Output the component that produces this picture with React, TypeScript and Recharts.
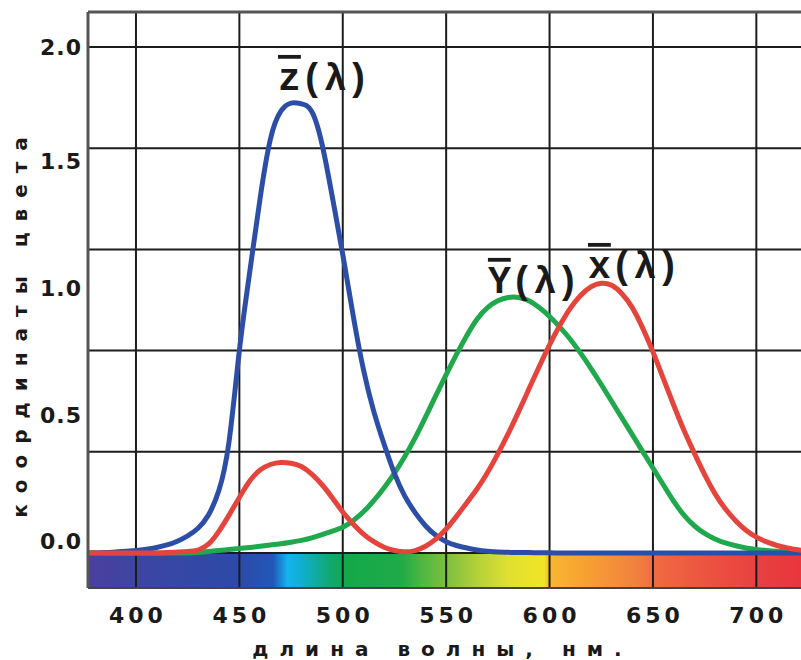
import React from 'react';
import {
  LineChart,
  Line,
  XAxis,
  YAxis,
  ReferenceArea,
  ReferenceLine,
  ReferenceDot,
  Label,
} from 'recharts';

// wavelength, nm
const wavelengths = [
  375, 380, 385, 390, 395, 400, 405, 410, 415, 420, 425, 430, 435, 440, 445,
  450, 455, 460, 465, 470, 475, 480, 485, 490, 495, 500, 505, 510, 515, 520,
  525, 530, 535, 540, 545, 550, 555, 560, 565, 570, 575, 580, 585, 590, 595,
  600, 605, 610, 615, 620, 625, 630, 635, 640, 645, 650, 655, 660, 665, 670,
  675, 680, 685, 690, 695, 700, 705, 710, 715, 720, 725,
];

const zBar = [
  0, 0, 0.002, 0.004, 0.007, 0.01, 0.015, 0.022, 0.032, 0.047, 0.068, 0.098, 0.15, 0.245, 0.44,
  0.8, 1.11, 1.4, 1.635, 1.745, 1.778, 1.775, 1.745, 1.615, 1.405, 1.18, 0.94, 0.725, 0.56, 0.43,
  0.315, 0.225, 0.16, 0.108, 0.07, 0.045, 0.03, 0.02, 0.012, 0.007, 0.004, 0.003, 0.002, 0.002, 0.001,
  0.001, 0, 0, 0, 0, 0, 0, 0, 0, 0, 0, 0, 0, 0, 0,
  0, 0, 0, 0, 0, 0, 0, 0, 0, 0, 0,
];

const yBar = [
  0, 0, 0, 0, 0, 0, 0, 0, 0, 0, 0, 0.002, 0.006, 0.01, 0.014,
  0.018, 0.022, 0.027, 0.032, 0.037, 0.043, 0.05, 0.06, 0.073, 0.087, 0.102, 0.128, 0.163, 0.207, 0.258,
  0.316, 0.382, 0.455, 0.537, 0.622, 0.705, 0.785, 0.86, 0.925, 0.97, 0.997, 1.01, 1.01, 0.997, 0.97,
  0.935, 0.893, 0.845, 0.79, 0.73, 0.666, 0.6, 0.534, 0.468, 0.402, 0.336, 0.27, 0.205, 0.15, 0.108,
  0.078, 0.056, 0.04, 0.029, 0.02, 0.014, 0.01, 0.007, 0.005, 0.004, 0.003,
];

const xBar = [
  0, 0, 0, 0, 0, 0, 0, 0, 0.002, 0.004, 0.006, 0.012, 0.035, 0.085, 0.15,
  0.22, 0.285, 0.328, 0.35, 0.358, 0.355, 0.342, 0.312, 0.27, 0.218, 0.162, 0.115, 0.075, 0.045, 0.023,
  0.01, 0.005, 0.01, 0.027, 0.055, 0.095, 0.145, 0.199, 0.254, 0.318, 0.392, 0.472, 0.558, 0.648, 0.737,
  0.823, 0.9, 0.967, 1.018, 1.052, 1.066, 1.058, 1.025, 0.97, 0.89, 0.795, 0.69, 0.585, 0.485, 0.395,
  0.31, 0.235, 0.175, 0.128, 0.09, 0.063, 0.044, 0.03, 0.02, 0.013, 0.008,
];

const xTicks = [400, 450, 500, 550, 600, 650, 700];
const yTicks = [0, 0.5, 1.0, 1.5, 2.0];
const yGrid = [0, 0.4, 0.8, 1.2, 1.6, 2.0];

const xMin = 376.8;
const xMax = 721.6;
const yMin = -0.138;
const yMax = 2.138;

// where the z(λ), y(λ), x(λ) captions start (data coords)
const curveLabels = [
  { letter: 'z', wl: 468.7, v: 1.83 },
  { letter: 'Y', wl: 570.2, v: 1.028 },
  { letter: 'x', wl: 618.6, v: 1.087 },
];

const chartData = wavelengths.map((wl, i) => ({
  wl,
  z: zBar[i],
  y: yBar[i],
  x: xBar[i],
}));

const spectrumStops: [number, string][] = [
  [0, '#4b3f9f'],
  [0.07, '#3d45a3'],
  [0.21, '#2c4aa8'],
  [0.26, '#2258b8'],
  [0.28, '#12b4ee'],
  [0.305, '#10aec4'],
  [0.34, '#10a870'],
  [0.365, '#14a84a'],
  [0.44, '#20aa48'],
  [0.47, '#50b840'],
  [0.505, '#80c040'],
  [0.55, '#b8d238'],
  [0.59, '#e0e030'],
  [0.64, '#f2e428'],
  [0.646, '#f8b830'],
  [0.7, '#f7a032'],
  [0.77, '#f08040'],
  [0.8, '#f06840'],
  [0.88, '#ec5040'],
  [0.94, '#e84040'],
  [1, '#e8363c'],
];

const tickFont = "'DejaVu Sans', sans-serif";

const XTick = ({ x, y, payload }: any) => (
  <text
    x={x + 2}
    y={y}
    dy={17}
    textAnchor="middle"
    fill="#1a1a1a"
    fontFamily={tickFont}
    fontWeight="bold"
    fontSize={22}
    letterSpacing={4}
  >
    {payload.value}
  </text>
);

const YTick = ({ x, y, payload }: any) => (
  <text
    x={x}
    y={y}
    dy={payload.value < 2 ? -4 : 8}
    textAnchor="end"
    fill="#1a1a1a"
    fontFamily={tickFont}
    fontWeight="bold"
    fontSize={22}
    letterSpacing={1}
  >
    {payload.value.toFixed(1)}
  </text>
);

const CurveCaption = ({ viewBox, letter }: any) => (
  <text
    x={viewBox.x}
    y={viewBox.y}
    fontFamily="'Liberation Mono', monospace"
    fontWeight="bold"
    fontSize={38}
    fill="#1a1a1a"
  >
    <tspan style={{ textDecoration: 'overline' }}>{letter}</tspan>
    <tspan>(λ)</tspan>
  </text>
);

const App = () => {
  return (
    <div
      style={{
        position: 'absolute',
        left: 0,
        top: 0,
        width: 801,
        height: 660,
        background: '#ffffff',
        overflow: 'hidden',
      }}
    >
      <LineChart
        width={801}
        height={660}
        data={chartData}
        margin={{ top: 12, right: 0, left: 0, bottom: 0 }}
      >
        <defs>
          <linearGradient id="spectrum" x1="0" y1="0" x2="1" y2="0">
            {spectrumStops.map(([o, c]) => (
              <stop key={o} offset={o} stopColor={c} />
            ))}
          </linearGradient>
        </defs>
        <XAxis
          dataKey="wl"
          type="number"
          domain={[xMin, xMax]}
          allowDataOverflow
          ticks={xTicks}
          height={72}
          tickLine={false}
          tickSize={0}
          tickMargin={18}
          tick={<XTick />}
          axisLine={{ stroke: '#444', strokeWidth: 2 }}
        >
          <Label
            content={({ viewBox }: any) => (
              <text
                x={viewBox.x + viewBox.width / 2 - 2}
                y={viewBox.y + 68}
                textAnchor="middle"
                fontFamily={tickFont}
                fontWeight="bold"
                fontSize={20}
                letterSpacing={11}
                fill="#1a1a1a"
              >
                длина волны, нм.
              </text>
            )}
          />
        </XAxis>
        <YAxis
          type="number"
          domain={[yMin, yMax]}
          allowDataOverflow
          ticks={yTicks}
          width={88}
          tickLine={false}
          tickSize={0}
          tickMargin={6}
          tick={<YTick />}
          axisLine={{ stroke: '#555', strokeWidth: 3 }}
        >
          <Label
            content={() => (
              <text
                transform="translate(27, 322) rotate(-90)"
                textAnchor="middle"
                fontFamily={tickFont}
                fontWeight="bold"
                fontSize={20}
                letterSpacing={11}
                fill="#1a1a1a"
              >
                координаты цвета
              </text>
            )}
          />
        </YAxis>

        <ReferenceArea
          x1={xMin}
          x2={xMax}
          y1={yMin}
          y2={0}
          fill="url(#spectrum)"
          fillOpacity={1}
          stroke="none"
        />
        {yGrid.map((v) => (
          <ReferenceLine key={'h' + v} y={v} stroke="#1c1c1c" strokeWidth={2} />
        ))}
        {xTicks.map((v) => (
          <ReferenceLine key={'v' + v} x={v} stroke="#1c1c1c" strokeWidth={2} />
        ))}
        <ReferenceLine y={yMax} stroke="#555" strokeWidth={3} />

        <Line
          type="natural"
          dataKey="y"
          stroke="#1fa84c"
          strokeWidth={5}
          dot={false}
          isAnimationActive={false}
        />
        <Line
          type="natural"
          dataKey="z"
          stroke="#2c4ea6"
          strokeWidth={5}
          dot={false}
          isAnimationActive={false}
        />
        <Line
          type="natural"
          dataKey="x"
          stroke="#e4443c"
          strokeWidth={5}
          dot={false}
          isAnimationActive={false}
        />

        {curveLabels.map((c) => (
          <ReferenceDot
            key={c.letter}
            x={c.wl}
            y={c.v}
            r={0}
            fill="none"
            stroke="none"
            label={<CurveCaption letter={c.letter} />}
          />
        ))}
      </LineChart>
    </div>
  );
};

export default App;
